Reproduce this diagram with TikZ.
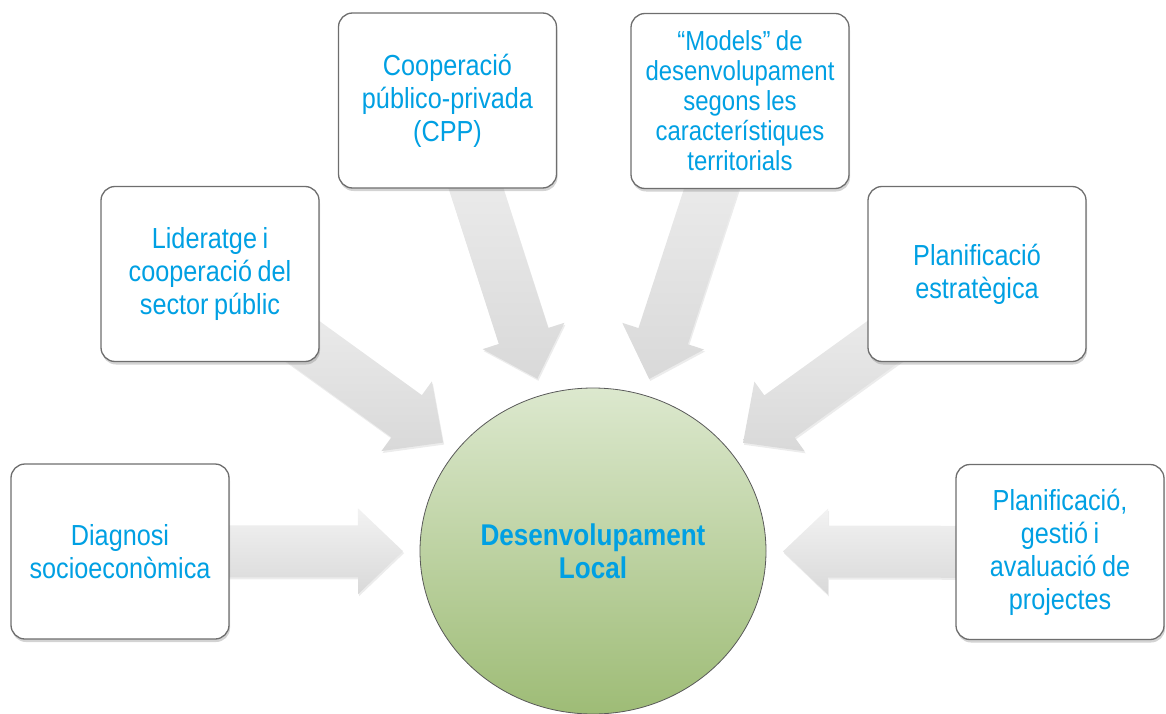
\documentclass[tikz,border=0pt]{standalone}
\usepackage{fontspec}
\newfontfamily\boxfont{Liberation Sans}[FakeStretch=0.87]
\usetikzlibrary{calc,shapes.geometric,shadows,backgrounds}
\definecolor{txtblue}{RGB}{0,160,227}
\definecolor{boxline}{RGB}{110,110,110}
\definecolor{cirtop}{RGB}{220,232,206}
\definecolor{cirbot}{RGB}{158,188,118}
\begin{document}
\begin{tikzpicture}[x=1pt,y=-1pt,
  box/.style={draw=boxline, line width=1.3pt, fill=white, rounded corners=14pt, minimum width=218pt, minimum height=175pt, text width=205pt, inner sep=4pt, align=center, text=txtblue, font=\boxfont\fontsize{29}{33}\selectfont, execute at begin node={\spaceskip=5.5pt\relax}, drop shadow={opacity=.35, shadow xshift=1pt, shadow yshift=-3pt}},
  hub/.style={ellipse, draw=black!65, line width=.8pt, top color=cirtop, bottom color=cirbot, minimum width=346pt, minimum height=326pt, align=center, text=txtblue, font=\boxfont\bfseries\fontsize{30}{33}\selectfont},
  blockarrow/.style={top color=gray!10, bottom color=gray!30, drop shadow={opacity=.15, shadow xshift=1pt, shadow yshift=-2pt}}]
\useasboundingbox (0,0) rectangle (1166,714);
\node[hub] (cen) at (593,551){Desenvolupament\\Local};
\node[box] (dia) at (120,551.5){Diagnosi\\socioeconòmica};
\node[box] (lid) at (210,274){Lideratge i\\cooperació del\\sector públic};
\node[box] (cpp) at (447.5,100.5){Cooperació\\público-privada\\(CPP)};
\node[box, font=\boxfont\fontsize{27.5}{30}\selectfont] (mod) at (740,101){“Models” de\\desenvolupament\\segons les\\característiques\\territorials};
\node[box] (pla) at (977,274){Planificació\\estratègica};
\node[box, minimum width=208pt, text width=198pt] (ges) at (1060,552){Planificació,\\gestió i\\avaluació de\\projectes};
\begin{pgfonlayer}{background}
\foreach \b/\d in {dia/190pt, lid/185pt, cpp/181pt, mod/181pt, pla/185pt, ges/190pt}{
  \coordinate (t\b) at ($(cen.center)!\d!(\b.center)$);
  \coordinate (h\b) at ($(t\b)!45pt!(\b.center)$);
  \path[blockarrow] ($(\b.center)!26pt!90:(t\b)$) -- ($(h\b)!26pt!-90:(\b.center)$) -- ($(h\b)!43pt!-90:(\b.center)$) -- (t\b) -- ($(h\b)!43pt!90:(\b.center)$) -- ($(h\b)!26pt!90:(\b.center)$) -- ($(\b.center)!26pt!-90:(t\b)$) -- cycle;
}
\end{pgfonlayer}
\end{tikzpicture}
\end{document}
